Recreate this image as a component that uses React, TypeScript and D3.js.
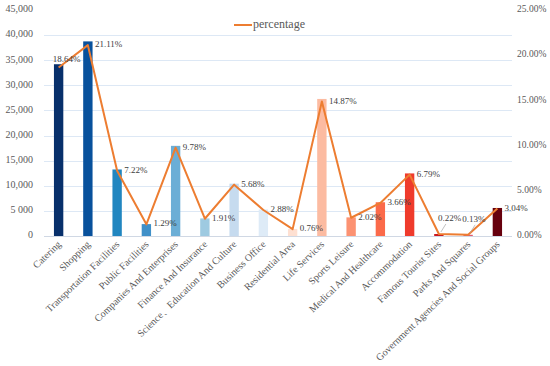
import * as d3 from "d3";
import React from "react";

const categories = [
	"Catering",
	"Shopping",
	"Transportation Facilities",
	"Public Facilities",
	"Companies And Enterprises",
	"Finance And Insurance",
	"Science、Education And Culture",
	"Business Office",
	"Residential Area",
	"Life Services",
	"Sports Leisure",
	"Medical And Healthcare",
	"Accommodation",
	"Famous Tourist Sites",
	"Parks And Squares",
	"Government Agencies And Social Groups",
];

const counts = [
	34200, 38750, 13250, 2370, 17950, 3500, 10420, 5290, 1400, 27290, 3710, 6720,
	12460, 400, 240, 5580,
];

const percentages = [
	18.64, 21.11, 7.22, 1.29, 9.78, 1.91, 5.68, 2.88, 0.76, 14.87, 2.02, 3.66,
	6.79, 0.22, 0.13, 3.04,
];

const barColors = [
	"#08306b", "#08519c", "#2186c0", "#4090c8", "#6baed6", "#9ecae1", "#c6dbef",
	"#deebf7", "#fee0d2", "#fcbba1", "#fc9272", "#fb6a4a", "#ef3b2c", "#cb181d",
	"#e05a70", "#67000d",
];

const leftTicks = [0, 5000, 10000, 15000, 20000, 25000, 30000, 35000, 40000, 45000];
const leftTickLabels = ["0", "5 000", "10,000", "15,000", "20,000", "25,000", "30,000", "35,000", "40,000", "45,000"];
const rightTicks = [0, 5, 10, 15, 20, 25];

export default function App() {
	const svgRef = React.useRef<SVGSVGElement>(null);

	React.useEffect(() => {
		document.body.style.margin = "0";
		if (!svgRef.current) return;
		const svg = d3.select(svgRef.current);
		svg.selectAll("*").remove();

		const margins = { left: 44, right: 512, top: 10, bottom: 236 };
		const font = "'Liberation Serif', 'Times New Roman', serif";
		const textColor = "#595959";

		const x = d3
			.scaleBand<string>()
			.domain(categories)
			.range([margins.left, margins.right])
			.paddingInner(0.68)
			.paddingOuter(0.34);
		const y = d3.scaleLinear().domain([0, 45000]).range([margins.bottom, margins.top]);
		const y2 = d3.scaleLinear().domain([0, 25]).range([margins.bottom, margins.top]);

		// gridlines
		svg
			.append("g")
			.selectAll("line")
			.data(leftTicks.filter((t) => t < 45000))
			.join("line")
			.attr("x1", margins.left)
			.attr("x2", margins.right)
			.attr("y1", (d) => Math.round(y(d)) + 0.5)
			.attr("y2", (d) => Math.round(y(d)) + 0.5)
			.attr("stroke", (d) => (d === 0 ? "#d0d8e4" : "#dde8f5"))
			.attr("stroke-width", 1);

		// left tick labels
		svg
			.append("g")
			.selectAll("text")
			.data(leftTicks)
			.join("text")
			.attr("x", 33)
			.attr("y", (d) => y(d))
			.attr("text-anchor", "end")
			.attr("dominant-baseline", "middle")
			.attr("font-family", font)
			.attr("font-size", 10)
			.attr("fill", textColor)
			.text((_, i) => leftTickLabels[i]);

		// right tick labels
		svg
			.append("g")
			.selectAll("text")
			.data(rightTicks)
			.join("text")
			.attr("x", 517)
			.attr("y", (d) => y2(d))
			.attr("text-anchor", "start")
			.attr("dominant-baseline", "middle")
			.attr("font-family", font)
			.attr("font-size", 9.5)
			.attr("fill", textColor)
			.text((d) => d3.format(".2f")(d) + "%");

		// bars
		svg
			.append("g")
			.selectAll("rect")
			.data(counts)
			.join("rect")
			.attr("x", (_, i) => x(categories[i])!)
			.attr("width", x.bandwidth())
			.attr("y", (d) => y(d))
			.attr("height", (d) => y(0) - y(d))
			.attr("fill", (_, i) => barColors[i]);

		// line
		const cx = (i: number) => x(categories[i])! + x.bandwidth() / 2;
		const line = d3
			.line<number>()
			.x((_, i) => cx(i))
			.y((d) => y2(d));
		svg
			.append("path")
			.attr("d", line(percentages))
			.attr("fill", "none")
			.attr("stroke", "#ed7d31")
			.attr("stroke-width", 2)
			.attr("stroke-linejoin", "round");

		// data labels
		percentages.forEach((p, i) => {
			const px = cx(i);
			const py = y2(p);
			let lx = px + 7;
			let ly = py;
			if (i === 0) {
				lx = px - 6;
				ly = py - 8;
			} else if (p < 0.5) {
				lx = px - 1 - (i === 13 ? 0 : 5);
				ly = py - 15;
				svg
					.append("line")
					.attr("x1", px + 2)
					.attr("y1", py - 2)
					.attr("x2", px + 7)
					.attr("y2", ly + 5)
					.attr("stroke", "#a6a6a6")
					.attr("stroke-width", 0.7);
			}
			svg
				.append("text")
				.attr("x", lx)
				.attr("y", ly)
				.attr("dominant-baseline", "middle")
				.attr("font-family", font)
				.attr("font-size", 9)
				.attr("fill", "#404040")
				.text(d3.format(".2f")(p) + "%");
		});

		// x labels
		svg
			.append("g")
			.selectAll("text")
			.data(categories)
			.join("text")
			.attr("transform", (d) => `translate(${x(d)! + x.bandwidth() / 2 + 3},${margins.bottom + 9}) rotate(-44)`)
			.attr("text-anchor", "end")
			.attr("font-family", font)
			.attr("font-size", 10)
			.attr("fill", textColor)
			.text((d) => d);

		// legend
		svg
			.append("line")
			.attr("x1", 234)
			.attr("x2", 252)
			.attr("y1", 25)
			.attr("y2", 25)
			.attr("stroke", "#ed7d31")
			.attr("stroke-width", 2);
		svg
			.append("text")
			.attr("x", 253)
			.attr("y", 25)
			.attr("dominant-baseline", "middle")
			.attr("font-family", font)
			.attr("font-size", 12)
			.attr("fill", textColor)
			.text("percentage");
	}, []);

	return <svg ref={svgRef} width={550} height={366} style={{ display: "block", background: "#fff" }} />;
}
